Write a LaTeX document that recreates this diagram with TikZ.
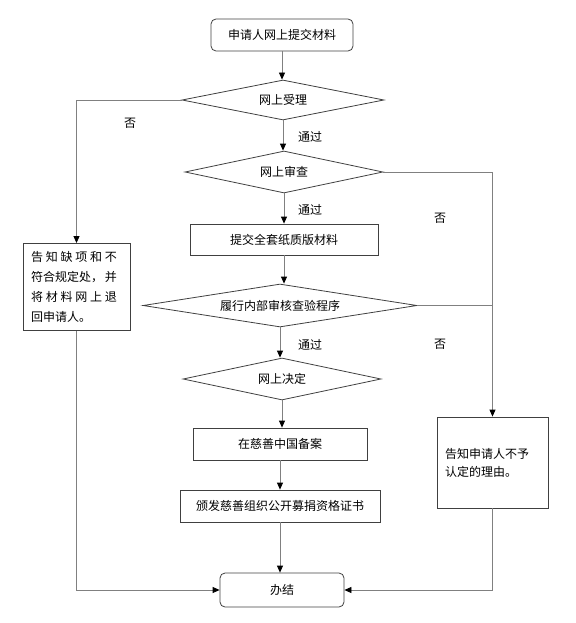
\documentclass[tikz,border=0pt]{standalone}
\usepackage{fontspec}
\setmainfont{Noto Sans CJK SC}
\usetikzlibrary{shapes.geometric, arrows.meta}

\begin{document}
\begin{tikzpicture}[x=1pt, y=-1pt, font=\fontsize{12}{14}\selectfont,
  line/.style={draw=gray, line width=0.8pt},
  arr/.style={line, -{Triangle[length=7pt, width=6pt, color=black]}},
  box/.style={draw=black!75, line width=0.8pt, inner sep=0pt},
  roundbox/.style={box, rounded corners=5pt},
  decision/.style={draw=black!75, line width=0.8pt, diamond, aspect=6, inner sep=0pt}]
\useasboundingbox (0,0) rectangle (575,623);
% main column
\node[roundbox, minimum width=142pt, minimum height=32pt] (apply) at (282,35) {申请人网上提交材料};
\node[decision, minimum width=202pt, minimum height=40pt] (accept) at (283,100) {网上受理};
\node[decision, minimum width=198pt, minimum height=42pt] (review) at (284,172) {网上审查};
\node[box, minimum width=188pt, minimum height=31pt] (paper) at (284,239.5) {提交全套纸质版材料};
\node[decision, minimum width=274pt, minimum height=43pt] (check) at (280,305.5) {履行内部审核查验程序};
\node[decision, minimum width=198pt, minimum height=42pt] (decide) at (282,379) {网上决定};
\node[box, minimum width=174pt, minimum height=32pt] (record) at (280,444) {在慈善中国备案};
\node[box, minimum width=200pt, minimum height=32pt] (issue) at (280,506) {颁发慈善组织公开募捐资格证书};
\node[roundbox, minimum width=124pt, minimum height=34pt] (done) at (282,590) {办结};
% side boxes
\node[box, text width=91pt, inner sep=8pt, minimum height=86pt, align=left, font=\fontsize{12}{20}\selectfont] (back) at (76.5,287) {\makebox[86pt][s]{告\hfill 知\hfill 缺\hfill 项\hfill 和\hfill 不}\\\makebox[86pt][s]{符合规定处，\hfill 并}\\\makebox[86pt][s]{将\hfill 材\hfill 料\hfill 网\hfill 上\hfill 退}\\回申请人。};
\node[box, text width=95pt, inner sep=8pt, minimum height=91pt, align=left, font=\fontsize{12}{18}\selectfont] (refuse) at (492.5,462.5) {告知申请人不予\\认定的理由。};
\foreach \a/\b in {apply/accept, accept/review, review/paper, paper/check, check/decide, decide/record, record/issue, issue/done}{
\draw[arr] (\a.south) -- (\a.south |- \b.north);
}
\draw[arr] (accept.west) -| (back.north);
\draw[arr] (back.south) |- (done.west);
\draw[arr] (review.east) -| (refuse.north);
\draw[line] (check.east) -- (check.east -| refuse.north);
\draw[arr] (refuse.south) |- (done.east);
% labels
\foreach \n/\x/\y/\t in {pass1/310/137/通过, pass2/310/210/通过, pass3/310/345/通过, no1/130/123/否, no2/440/218/否, no3/440/344/否}{
\node (\n) at (\x,\y) {\t};
}
\end{tikzpicture}
\end{document}
